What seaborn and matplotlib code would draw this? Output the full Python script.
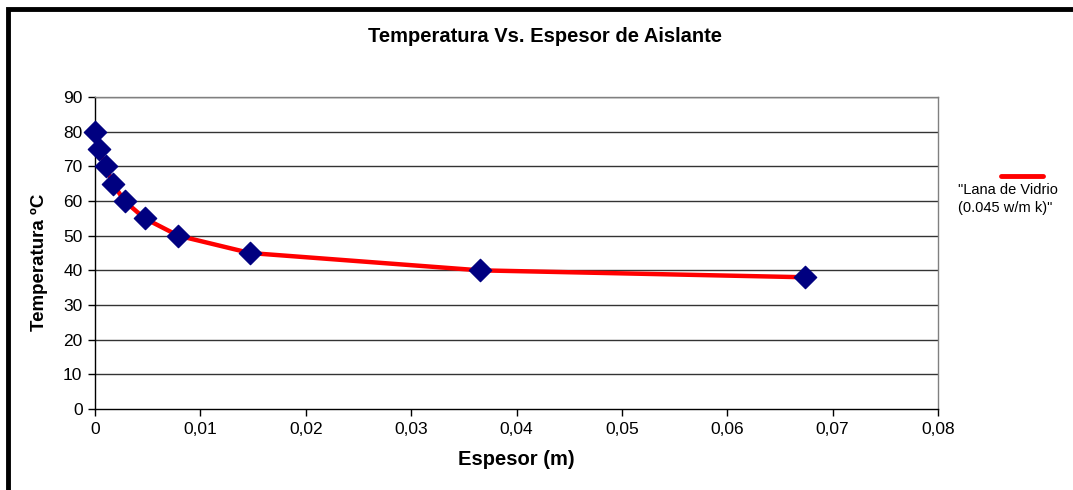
import matplotlib
matplotlib.use("Agg")
import matplotlib.pyplot as plt
import seaborn as sns
import pandas as pd
from matplotlib.patches import Rectangle
from matplotlib.lines import Line2D

espesor = [0.0, 0.0004, 0.001, 0.0017, 0.0028, 0.0047, 0.0079, 0.0147, 0.0365, 0.0674]
temperatura = [80, 75, 70, 65, 60, 55, 50, 45, 40, 38]
x_ticks = [0, 0.01, 0.02, 0.03, 0.04, 0.05, 0.06, 0.07, 0.08]
x_tick_labels = ["0", "0,01", "0,02", "0,03", "0,04", "0,05", "0,06", "0,07", "0,08"]
y_ticks = [0, 10, 20, 30, 40, 50, 60, 70, 80, 90]
serie = '"Lana de Vidrio\n(0.045 w/m k)"'

df = pd.DataFrame({"Espesor": espesor, "Temperatura": temperatura})

sns.set_theme(style="white")
plt.rcParams["font.family"] = ["Liberation Sans", "DejaVu Sans"]

fig = plt.figure(figsize=(10.73, 4.9), dpi=100)
ax = fig.add_axes([95/1073, 1-409/490, (938-95)/1073, (409-97)/490])

sns.lineplot(data=df, x="Espesor", y="Temperatura", ax=ax, color="#ff0000",
             linewidth=3.2, zorder=2, legend=False)
sns.scatterplot(data=df, x="Espesor", y="Temperatura", ax=ax, marker="D",
                s=130, color="#000080", edgecolor="#000080", zorder=3, legend=False)
for coll in ax.collections:
    coll.set_clip_on(False)
for ln in ax.lines:
    ln.set_clip_on(False)

ax.set_xlim(0, 0.08)
ax.set_ylim(0, 90)
ax.set_xticks(x_ticks)
ax.set_xticklabels(x_tick_labels)
ax.set_yticks(y_ticks)
ax.tick_params(axis="both", labelsize=12.5, direction="out", length=5, width=1,
               color="black", left=True, bottom=True, pad=4, labelcolor="black")
for yv in y_ticks[1:]:
    ax.axhline(yv, color="#333333", linewidth=1, zorder=1)

ax.spines["left"].set_color("black")
ax.spines["bottom"].set_color("black")
ax.spines["top"].set_color("#808080")
ax.spines["right"].set_color("#808080")
for s in ax.spines.values():
    s.set_linewidth(1)

ax.set_xlabel("Espesor (m)", fontsize=14.5, fontweight="bold", labelpad=10, color="black")
ax.set_ylabel("Temperatura ºC", fontsize=13.5, fontweight="bold", labelpad=8, color="black")
ax.yaxis.set_label_coords(48/1073, 1-262/490, transform=fig.transFigure)
fig.text(545/1073, 1-37/490, "Temperatura Vs. Espesor de Aislante",
         ha="center", va="center", fontsize=14.5, fontweight="bold", color="black")

# Legend in Excel style: line above the label text
handle = Line2D([], [], color="#ff0000", linewidth=3.5)
leg = ax.legend([handle], [""], loc="center", bbox_to_anchor=(1022/1073, 1-177/490),
                bbox_transform=fig.transFigure, frameon=False, handlelength=3.0,
                borderpad=0, handletextpad=0, fontsize=10)
fig.text(958/1073, 1-199/490, serie, ha="left", va="center", fontsize=10.5,
         color="black", linespacing=1.35)

fig.patches.append(Rectangle((8/1073, -0.1), 1.2, 1.1 - 9/490, transform=fig.transFigure,
                             fill=False, edgecolor="black", linewidth=3.5, figure=fig))

fig.savefig("out.png", dpi=100)
